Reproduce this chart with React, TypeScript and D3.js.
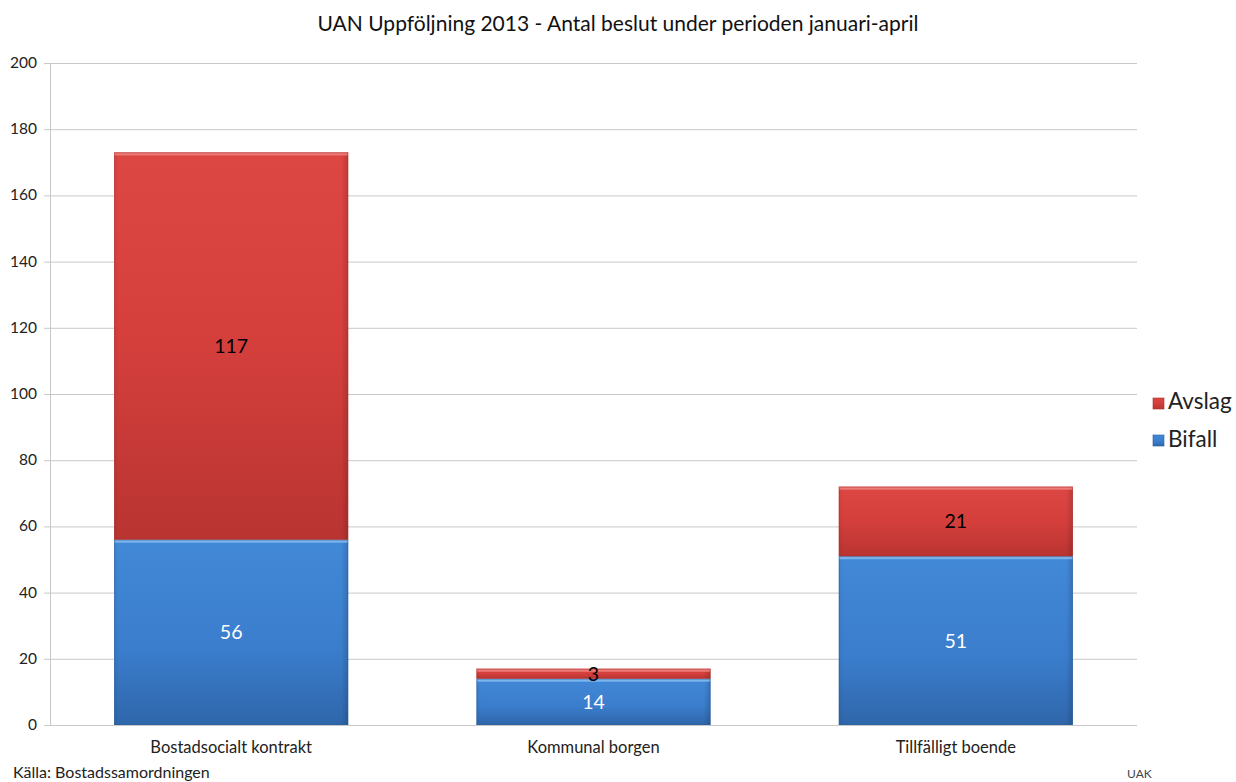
import React from "react";
import * as d3 from "d3";

const categories = ["Bostadsocialt kontrakt", "Kommunal borgen", "Tillfälligt boende"];
const bifall = [56, 14, 51];
const avslag = [117, 3, 21];
const yTicks = [0, 20, 40, 60, 80, 100, 120, 140, 160, 180, 200];
const title = "UAN Uppföljning 2013 - Antal beslut under perioden januari-april";

const W = 1236, H = 782;
const FONT = "Lato, 'Open Sans', sans-serif";

export default function App() {
  const left = 50, right = 1137, top = 63, bottom = 725;
  const x = d3.scaleBand<string>().domain(categories).range([left, right]).paddingInner(0.354).paddingOuter(0.177);
  const y = d3.scaleLinear().domain([0, 200]).range([bottom, top]);
  const bw = x.bandwidth();

  const seg = (x0: number, y0: number, y1: number, kind: "r" | "b", key: string) => {
    const h = y0 - y1;
    return (
      <g key={key}>
        <rect x={x0} y={y1} width={bw} height={h} fill={`url(#${kind}v)`} />
        <rect x={x0} y={y1} width={bw} height={h} fill="url(#edgeH)" />
        <rect x={x0} y={y1} width={bw} height={Math.min(3, h)} fill={kind === "r" ? "#f08a86" : "#8cc0f2"} opacity={0.8} />
        <rect x={x0 + 0.5} y={y1 + 0.5} width={bw - 1} height={h - 1} fill="none" stroke={kind === "r" ? "#a82f2c" : "#2a5d9a"} strokeOpacity={0.5} />
      </g>
    );
  };

  return (
    <svg width={W} height={H} style={{ display: "block", position: "absolute", left: 0, top: 0, background: "#fff" }} fontFamily={FONT}>
      <defs>
        <linearGradient id="rv" x1="0" y1="0" x2="0" y2="1">
          <stop offset="0" stopColor="#dd4743" />
          <stop offset="0.5" stopColor="#d43f3c" />
          <stop offset="1" stopColor="#b93431" />
        </linearGradient>
        <linearGradient id="bv" x1="0" y1="0" x2="0" y2="1">
          <stop offset="0" stopColor="#4289d8" />
          <stop offset="0.6" stopColor="#3a7dcc" />
          <stop offset="1" stopColor="#2f66aa" />
        </linearGradient>
        <linearGradient id="edgeH" x1="0" y1="0" x2="1" y2="0">
          <stop offset="0" stopColor="#000" stopOpacity={0.06} />
          <stop offset="0.02" stopColor="#000" stopOpacity={0} />
          <stop offset="0.97" stopColor="#000" stopOpacity={0} />
          <stop offset="1" stopColor="#000" stopOpacity={0.15} />
        </linearGradient>
      </defs>
      <text x={618} y={31} textAnchor="middle" fontSize={21} fill="#111">{title}</text>
      {yTicks.map(t => (
        <g key={t}>
          <line x1={left - 6} x2={right} y1={y(t) + 0.5} y2={y(t) + 0.5} stroke="#c8c8c8" strokeWidth={1} />
          <text x={37} y={y(t) + 5} textAnchor="end" fontSize={15.5} fill="#222">{t}</text>
        </g>
      ))}
      <line x1={left + 0.5} x2={left + 0.5} y1={top} y2={bottom} stroke="#c8c8c8" />
      {categories.map((c, i) => {
        const x0 = x(c)!;
        const cx = x0 + bw / 2;
        const b = bifall[i], a = avslag[i];
        return (
          <g key={c}>
            {seg(x0, y(0), y(b), "b", "b" + i)}
            {seg(x0, y(b), y(b + a), "r", "r" + i)}
            <text x={cx} y={(y(0) + y(b)) / 2 + 7} textAnchor="middle" fontSize={19.5} fill="#fff">{b}</text>
            <text x={cx} y={(y(b) + y(b + a)) / 2 + 7} textAnchor="middle" fontSize={19.5} fill="#000">{a}</text>
            <text x={cx} y={753} textAnchor="middle" fontSize={16.5} fill="#222">{c}</text>
          </g>
        );
      })}
      <rect x={1153} y={398} width={11} height={11} fill="url(#rv)" stroke="#a82f2c" strokeOpacity={0.6} />
      <text x={1168} y={409} fontSize={22.5} fill="#222">Avslag</text>
      <rect x={1153} y={435} width={11} height={11} fill="url(#bv)" stroke="#2a5d9a" strokeOpacity={0.6} />
      <text x={1168} y={447} fontSize={22.5} fill="#222">Bifall</text>
      <text x={13} y={778} fontSize={16} fill="#222">Källa: Bostadssamordningen</text>
      <text x={1127} y={778} fontSize={12} fill="#444">UAK</text>
    </svg>
  );
}
